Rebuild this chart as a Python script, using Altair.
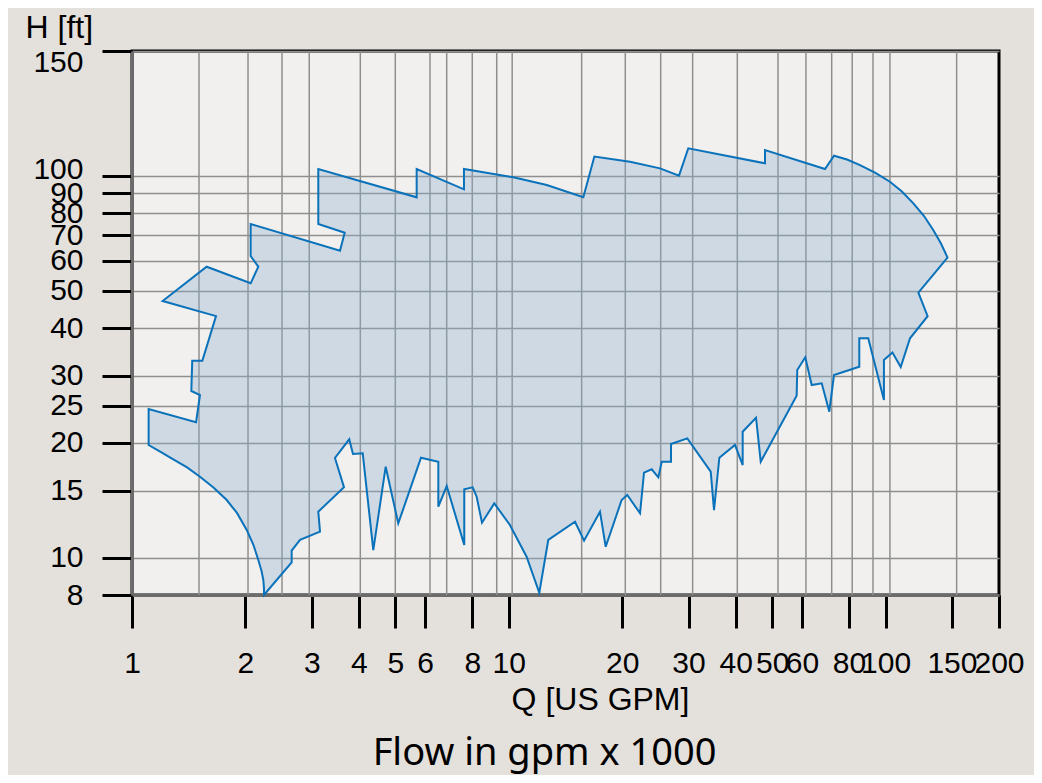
import altair as alt
import pandas as pd

# Operating-range outline (Q in US GPM x1000, H in ft), traced clockwise
q_vals = [1.107, 1.107, 1.479, 1.515, 1.437, 1.445, 1.537, 1.671, 1.206, 1.578,
          2.065, 2.164, 2.065, 2.065, 3.565, 3.668, 3.122, 3.122, 5.695, 5.695,
          7.604, 7.604, 10.28, 12.61, 15.77, 16.87, 20.98, 25.19, 28.30, 29.95,
          47.86, 47.86, 69.07, 72.97, 78.99, 85.53, 93.74, 102.7, 110.5, 118.5,
          126.5, 133.8, 140.3, 146.0,
          122.2, 129.3, 116.1, 109.7, 104.3, 99.0, 99.0, 89.96, 85.16, 85.16,
          72.97, 70.90, 67.69, 63.67, 61.22, 58.29, 58.07, 46.63, 45.31, 41.76,
          41.76, 39.84, 36.21, 35.05, 34.35, 29.77, 26.95, 26.95, 25.46, 24.94,
          23.95, 22.85, 22.30, 20.63, 19.93, 18.08, 17.46, 15.84, 14.99, 12.73,
          12.05, 11.15, 10.07, 9.152, 8.49, 8.217, 8.02, 7.618, 7.618, 6.843,
          6.501, 6.501, 5.848, 5.089, 4.713, 4.369, 4.096, 3.859, 3.772, 3.457,
          3.653, 3.122, 3.155, 2.792, 2.653, 2.653, 2.240, 2.240, 2.231, 2.207,
          2.164, 2.101, 2.016, 1.899, 1.784, 1.645, 1.515, 1.400, 1.287, 1.194]
h_vals = [19.76, 24.55, 22.66, 26.71, 27.36, 32.85, 32.85, 42.98, 47.08, 57.88,
          52.37, 57.88, 61.73, 74.86, 63.73, 71.03, 74.86, 102.3, 87.94, 102.3,
          92.28, 102.3, 99.2, 94.69, 87.94, 106.5, 104.7, 102.5, 100.1, 109.4,
          104.2, 108.8, 102.3, 106.8, 105.5, 103.6, 101.1, 96.6, 91.07, 84.82,
          78.56, 72.2, 66.57, 61.17,
          49.49, 42.94, 37.59, 31.62, 34.51, 32.99, 25.92, 37.59, 37.59, 31.66,
          30.13, 24.15, 28.66, 28.36, 33.53, 31.05, 26.59, 17.87, 23.29, 21.41,
          17.51, 19.76, 18.30, 13.35, 16.82, 20.57, 19.88, 17.87, 17.87, 16.26,
          17.07, 16.72, 13.09, 14.62, 14.18, 10.70, 13.22, 11.10, 12.44, 11.15,
          8.11, 10.08, 12.20, 13.90, 12.37, 14.47, 15.31, 15.13, 10.81, 15.43,
          13.62, 17.87, 18.30, 12.32, 17.34, 10.49, 18.79, 18.71, 20.45, 18.27,
          15.33, 13.22, 11.72, 11.15, 10.45, 9.74, 8.0, 8.34, 8.76, 9.245,
          9.88, 10.81, 11.84, 13.12, 14.18, 15.29, 16.32, 17.26, 18.13, 18.94]

x_ticks = [1, 2, 3, 4, 5, 6, 8, 10, 20, 30, 40, 50, 60, 80, 100, 150, 200]
y_ticks = [8, 10, 15, 20, 25, 30, 40, 50, 60, 70, 80, 90, 100, 150]
x_grid = [1.506, 2.032, 2.501, 2.954, 4.036, 4.998, 6.178, 6.843, 8.0, 9.29,
          10.21, 15.61, 20.38, 25.30, 30.76, 40.41, 51.82, 61.47, 71.94, 81.56,
          92.60, 102.7, 154.4]

poly = pd.DataFrame({"Q": q_vals, "H": h_vals, "i": list(range(len(q_vals)))})
grid = pd.DataFrame({"Q": x_grid})

FONT = "Liberation Sans"
xscale = alt.Scale(type="log", domain=[1, 200], nice=False)
yscale = alt.Scale(type="log", domain=[8, 100, 150], range=[544, 125, 0], nice=False)

x_axis = alt.Axis(
    values=x_ticks, format="d", grid=False,
    tickSize=33, tickWidth=3, tickColor="black",
    domainColor="#6b6b6b", domainWidth=3,
    labelFont=FONT, labelFontSize=30, labelColor="black", labelPadding=20,
    labelFlush=False, labelOverlap=False,
    title="Q [US GPM]", titleFont=FONT, titleFontSize=32, titleFontWeight="normal",
    titleColor="black", titleX=468, titleY=114, titleAlign="center",
    titleBaseline="alphabetic",
)
y_axis = alt.Axis(
    values=y_ticks, format="d", grid=True, gridColor="#8f8f8f", gridWidth=1.5,
    tickSize=30, tickWidth=3, tickColor="black",
    domainColor="#6b6b6b", domainWidth=3,
    labelFont=FONT, labelFontSize=30, labelColor="black", labelPadding=19,
    labelOverlap=False,
    labelOffset={"condition": [{"test": "datum.value == 150", "value": 11},
                               {"test": "datum.value == 100", "value": -7}],
                 "value": 0},
    title="H [ft]", titleFont=FONT, titleFontSize=32, titleFontWeight="normal",
    titleColor="black", titleAngle=0, titleX=-107, titleY=-14, titleAlign="left",
    titleBaseline="alphabetic",
)

grid_layer = alt.Chart(grid).mark_rule(color="#8f8f8f", strokeWidth=1.5).encode(
    x=alt.X("Q:Q", scale=xscale, axis=x_axis)
)

poly_layer = alt.Chart(poly).mark_line(
    interpolate="linear-closed", fill="#8aadcd", fillOpacity=0.34,
    stroke="#0a72ba", strokeWidth=2,
).encode(
    x=alt.X("Q:Q", scale=xscale, axis=x_axis),
    y=alt.Y("H:Q", scale=yscale, axis=y_axis),
    order=alt.Order("i:Q"),
)

chart = alt.layer(grid_layer, poly_layer).properties(
    width=867, height=544,
    autosize=alt.AutoSizeParams(type="none"),
    padding={"left": 124, "top": 43, "right": 35, "bottom": 180},
    title=alt.TitleParams(
        "Flow in gpm x 1000", orient="bottom", anchor="middle", frame="group",
        font="Noto Sans", fontSize=38, fontWeight="normal", color="black",
        dx=-21, offset=20,
    ),
).configure(
    background="#e4e1dc",
).configure_view(
    fill="#f1f0ee", stroke="black", strokeWidth=3,
)

chart.save("out.html", embed_options={"renderer": "svg", "actions": False})
